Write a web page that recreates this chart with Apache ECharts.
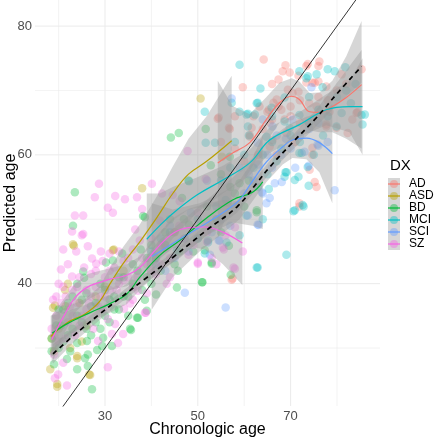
<!DOCTYPE html>
<html><head><meta charset="utf-8">
<script src="https://cdn.jsdelivr.net/npm/echarts@6/dist/echarts.min.js"></script>
<style>html,body{margin:0;padding:0;background:#fff}#c{width:435px;height:440px}</style>
</head><body><div id="c"></div>
<script>
// ---------- DATA ----------
const groups = ['AD','ASD','BD','MCI','SCI','SZ'];
const groupColors = ['#F8766D','#B79F00','#00BA38','#00BFC4','#619CFF','#F564E3'];
const xTitle = 'Chronologic age';
const yTitle = 'Predicted age';
const legendTitle = 'DX';
const xTickLabels = [30,50,70];
const yTickLabels = [40,60,80];
const xMajor = [30,50,70], xMinor = [20,40,60,80];
const yMajor = [40,60,80], yMinor = [30,50,70];

const adPts = [[64.2,74.8],[68.9,73.9],[68.3,73],[69.8,72.8],[73.4,73.8],[76.2,74.5],[76,73.8],[85.3,73.3],[67.4,71.7],[74.7,71.2],[76,71.4],[59.7,70.5],[63.3,67.5],[67,68.6],[69.4,70.1],[67.4,67.5],[65.3,67],[75.6,67.5],[78.4,66.7],[84.2,66.5],[77.7,64.4],[79.9,64.2],[56.7,64.2],[54.5,65.8],[61.2,62.8],[65.5,61.3],[69.1,63.4],[74.7,60],[74.1,57.7],[75.2,55.8],[75.6,55],[71.9,52.5],[71.9,52],[57.3,40.6],[73.7,74.1],[71.7,72.3],[73.4,71.25],[75.2,71.2],[77.7,70.6],[71.7,69.8],[70.4,69.6],[66.3,68.1],[61.6,64.2],[68.7,65.5],[84.4,66.6],[83.3,65.5],[82.3,63.4],[77.7,64.7],[74.7,61.1],[65.5,65],[65,66.7],[66.1,62.3],[61.2,63.1],[54.3,65.6],[56.9,64],[57.5,40.8],[62,66],[64,64],[66,65.5],[68,67],[70,67.5],[72,68.5],[74,68],[76,69],[78,68.5],[80,70],[82,71],[70,66],[72,65],[63,60],[67,60],[71,62],[58,61],[60,59],[66,71],[81,72.5],[55,62],[58,66]];
const asdPts = [[50.6,68.75],[38,54.8],[19.7,24],[26.8,25.8],[18.2,26.7],[24,28.4],[23.3,45.9],[31.9,45.3],[55.2,59.7],[18.5,31.5],[20,33],[21.5,36.5],[22,40],[24.5,37],[28,38],[25,31],[34,42],[19,29.5],[26,33.5],[30,39.5],[22.5,30],[45,48],[23.1,46.1],[21.4,39],[18.8,36.25],[31.7,45.2],[19.7,24.4],[26.6,25.9],[24,28.75],[19.2,36.6]];
const bdPts = [[44.2,62.7],[45.9,63.4],[51.7,64],[23.5,54.2],[59,55.6],[53,43.3],[51,40.2],[57.1,41.4],[62.7,51.1],[45.5,39.4],[50.9,40.2],[38.6,37.5],[41,38.3],[27.2,23.6],[24,26.7],[26.3,27.2],[21.8,28.3],[25.7,28.4],[26.3,29],[28.3,29.7],[29.4,30.3],[31.5,30.3],[29.6,31.6],[35.6,32.8],[37.1,34.7],[26.1,31.1],[24,30.8],[23.1,49],[25.3,41.9],[25.5,40.9],[33.7,44.7],[31.7,43.6],[30.2,43.3],[38.6,50.3],[37.7,45.3],[52.8,58.4],[56.9,59.7],[62.7,51.4],[38.2,50.5],[46.6,53.3],[48.1,49.2],[56.7,45.9],[53,43.1],[55,57],[48,56],[43,48],[41,44],[39,41],[36,40],[34,38],[32,36],[30,35],[28,34],[26,33],[24,35],[22,32],[20,30],[19,27.5],[18.5,29.5],[21,36],[23,38],[25,37.5],[27,36.5],[29,40],[31,37.5],[33,41],[35,35],[37,42],[40,46],[44,50],[46,45],[50,47],[54,50],[58,54],[61,56],[20.5,33.5],[22.5,29.5],[35.4,33],[51.5,45.2],[45.7,42],[36.9,34.7],[39,35.8],[18.5,31.5],[19.5,33.5],[20,36],[21,31],[22,37],[23,33],[24,40],[25,34],[26,38.5],[27,32],[28,37],[29,33],[30,39],[31,34],[32,38],[33,36],[34,41],[35,38],[36,43],[38,39],[39,44],[40,40],[42,42],[43,46],[45,43],[47,50],[49,45],[52,52],[55,48],[57,55],[60,52]];
const mciPts = [[51.5,66.7],[59,74],[71.9,73],[75.6,72.5],[78,73.3],[79.5,73],[81.8,73.6],[73.4,71.9],[76.9,70.5],[63.5,70.3],[57.3,68.1],[59,66.7],[60.8,66.4],[68.7,68.9],[65.9,67.3],[85.3,66.2],[85.5,64.7],[69.8,64.2],[53.7,61.9],[68.7,65.2],[71.9,66.2],[71.9,60.3],[73.7,58.1],[69.1,57.3],[68.7,56.6],[70.9,56.1],[72.6,52.2],[70.9,51.4],[70.6,51.25],[72.8,52],[59,47.5],[62.9,42.5],[69.1,44.5],[56.2,46.4],[64,50],[73.7,72.2],[62.7,68],[86,66.25],[79.9,64.4],[72.4,60.3],[62.3,66.25],[64.8,62.8],[68.9,57.3],[65.3,54.7],[71.7,56.6],[73.9,55.2],[60.5,50.6],[48.1,55.9],[52.2,46.7],[47.2,47],[45.5,45.2],[51.5,44.7],[62.7,42.5],[60.5,66.25],[62.9,68.1],[60.8,64.4],[55,56],[57,58],[60,60],[62,58],[64,60],[66,62],[67,59],[70,63],[72,62],[74,65],[76,67],[78,66],[80,69],[82,70],[84,71],[66,66],[58,62],[54,52],[50,50],[44,48],[42,47],[40,45],[56,53],[63,55],[75,60],[77,63],[83,68],[61,63],[65,57],[68,61],[74,69],[81,66.5],[51.7,61.9],[52.2,46.4]];
const sciPts = [[74.5,70.5],[57.3,68.75],[66.1,64.4],[64,65.5],[75.8,61.6],[68.1,55.8],[66.6,55.6],[79.5,54.5],[65.5,53.3],[64.8,52.5],[63.8,54.2],[52.6,44.5],[54.5,46.7],[62.9,49.2],[60.8,50.6],[47.2,38.6],[56,36.3],[54.7,46.7],[73.9,58.3],[64,54],[63.1,49.1],[76,61.4],[70.4,65.5],[62.9,61.9],[58,52],[60,54],[62,56],[66,58],[68,60],[70,61],[72,63],[74,64],[76,65],[78,62],[55,50],[50,47],[48,45],[45,44],[43,42],[41,43],[53,48],[57,49],[61,57],[65,60],[69,62.5],[71,58],[73,60.5],[67,63],[59,58],[63,58.5],[52,56],[48.5,51],[44,49]];
const szPts = [[28.7,55.5],[27.8,53.4],[32.2,53.6],[34.3,53.1],[36.9,53.4],[40.1,55.5],[25.3,50.6],[30.6,51.8],[31.7,51],[47.8,60.6],[42.3,54],[22.9,48.1],[25.3,47.7],[23.8,45],[21,45.3],[26.3,45.8],[27.2,43.9],[20.5,42.2],[22.9,41.1],[29.1,45],[28.1,43.1],[36.5,48.4],[36,45.3],[37.5,46.7],[38,51.6],[44.6,53.75],[46.1,52.8],[51.7,56.25],[41.8,49.8],[58,48.75],[55.4,45.6],[50,43.1],[58,42.3],[59.7,45],[57.7,42.5],[55.6,45.3],[43.3,40],[38.8,35.5],[21.8,24.2],[19.2,25.3],[19.9,25.9],[30.6,27],[21,27.7],[32.8,30.8],[28.5,31.1],[31.5,32.2],[33.9,32.2],[38.6,35.5],[35.4,36.9],[34.1,36.1],[37.1,38.9],[32.2,33.75],[30.6,34.5],[18.5,33],[19.5,35],[20,31],[20.5,37],[21.5,38],[22,34],[22.5,36.5],[23,39],[24,37],[24.5,41],[25,35],[26,39],[26.5,37],[27,41.5],[28,39.5],[29,38],[30,41],[31,39],[32,42.5],[33,40],[34,43.5],[35,41],[36,39.5],[39,43],[40,42],[42,46],[44,44],[45,48],[47,47],[49,46],[52,48],[53,44],[19,29],[18.8,37.5],[21,39.5],[23.5,32],[29.5,36],[27.5,33],[23.5,50.6],[25,47.5],[31,44.7],[50,43.3],[19,32],[19.5,38],[20,40],[21.5,31.5],[22,43],[23,35],[24,39.5],[24.5,33.5],[25.5,42.5],[26,36],[27,38],[28,42],[28.5,36.5],[29.5,43.5],[30,38],[31,42],[32.5,39],[33,45],[34,40.5],[35,44],[36,37.5],[37,41],[38,44],[39,38.5],[40,47],[41,41.5],[42,43],[43,45.5],[44,41],[46,49],[48,44.5],[50,51],[52,46.5],[54,43],[56,47.5]];

// smooth (loess) fits per group: [x, y]
const adFit  = [[54.3,58.75],[57.5,60.3],[61.2,61.9],[64.8,65.5],[67.6,68.1],[70.2,69.1],[71.9,68.6],[74.1,66.7],[76.2,66.6],[79,67.5],[82,68.9],[85.3,70.9]];
const asdFit = [[18.3,31.8],[22,34],[25.7,35.3],[28.9,37.3],[31.1,40],[33.9,43.1],[37.5,46.5],[41.2,50.3],[44.6,54],[48,57],[51.9,59],[57.3,62.2]];
const bdFit  = [[18.6,32.3],[21.8,33.75],[26.8,35.5],[31.1,36.9],[34.7,38.4],[37.5,41],[41.8,44.4],[46.1,46.7],[51.9,50.2],[57.5,53],[61.8,54.2],[64,55.8]];
const mciFit = [[39,46.9],[41.8,49],[44.6,50.9],[49.8,53.75],[55.4,56.1],[61.2,58.75],[65.5,62.3],[71.9,64.7],[77.7,67],[82.7,67.5],[85.5,67.5]];
const sciFit = [[40.1,44.2],[44.6,46.25],[50.4,48.75],[56.2,51.4],[59,53],[61.2,55.3],[64.8,58.9],[68.3,61.25],[70.4,62.3],[73.4,62.6],[76.2,61.9],[79,60.2]];
const szFit  = [[18.5,31.3],[21,34.8],[23.5,37.8],[26.3,39.5],[28.9,40.2],[31.1,40.7],[34.7,41.3],[37.5,42.5],[41.2,45.5],[44.6,47.8],[48,48.7],[51.5,48.8],[55.4,48],[59.6,46.3]];
const allFit = [[18.8,29.1],[23,31.8],[28.9,35.3],[33.5,37.9],[38.2,40.5],[45,44.3],[51.9,48.3],[58.4,51.9],[62.7,55.6],[65.5,58.1],[70,61.6],[75.6,65.8],[80,69.5],[85.3,73.75]];

// confidence bands: [x, lower, upper]
const adBand  = [[54.3,47,71.5],[57.5,53,67.6],[61.2,57.5,66.3],[64.8,62,69],[67.6,65,71.2],[70.2,66.3,71.9],[71.9,65.8,71.4],[74.1,63.8,69.6],[76.2,63.5,69.7],[79,63.5,71.5],[82,62.5,75.3],[85.3,61,80.8]];
const asdBand = [[18.3,28.5,35],[22,31.5,36.5],[25.7,33,37.6],[28.9,35,39.6],[31.1,37.5,42.5],[33.9,40.5,45.7],[37.5,43.8,49.2],[41.2,47,53.6],[44.6,49.8,58.2],[48,51.5,62.5],[51.9,52,66],[57.3,52,72.3]];
const bdBand  = [[18.6,29.5,35],[21.8,31.8,35.7],[26.8,34,37],[31.1,35.5,38.3],[34.7,36.8,40],[37.5,39,43],[41.8,42,46.8],[46.1,44,49.4],[51.9,47.5,53],[57.5,49.5,56.5],[61.8,49,59.5],[64,48.5,63]];
const mciBand = [[39,40,54],[41.8,44,54],[44.6,47,55],[49.8,51,56.5],[55.4,54,58.3],[61.2,56.8,60.8],[65.5,60.3,64.3],[71.9,62.8,66.6],[77.7,64.6,69.4],[82.7,63.5,71.5],[85.5,60,75]];
const sciBand = [[40.1,36,52.5],[44.6,41,51.5],[50.4,45,52.5],[56.2,48.3,54.5],[59,50,56],[61.2,52.2,58.4],[64.8,55.8,62],[68.3,58.5,64],[70.4,59.5,65],[73.4,59.3,65.9],[76.2,57.3,66.5],[79,52.5,67.9]];
const szBand  = [[18.5,27.5,35],[21,32,37.5],[23.5,35.5,40],[26.3,37.5,41.5],[28.9,38.5,42],[31.1,39,42.4],[34.7,39.6,43],[37.5,40.8,44.2],[41.2,43.5,47.5],[44.6,45.5,50.2],[48,45.8,51.6],[51.5,45.3,52.4],[55.4,43,53],[59.6,39.8,52.8]];
const allBand = [[18.8,27.6,30.6],[23,30.7,32.9],[28.9,34.4,36.2],[33.5,37.1,38.7],[38.2,39.7,41.3],[45,43.5,45.1],[51.9,47.4,49.2],[58.4,51,52.8],[62.7,54.7,56.5],[65.5,57.1,59.1],[70,60.5,62.7],[75.6,64.5,67.1],[80,67.8,71.2],[85.3,71.2,76.3]];

const identityLine = [[10,10],[95,95]];

// ---------- CHART ----------
const X_MIN = 14.91, X_MAX = 89.27, Y_MIN = 21.0, Y_MAX = 84.05;
const pts = [adPts, asdPts, bdPts, mciPts, sciPts, szPts];
const fits = [adFit, asdFit, bdFit, mciFit, sciFit, szFit];
const bands = [adBand, asdBand, bdBand, mciBand, sciBand, szBand];
const FONT = 'Liberation Sans, Arial, sans-serif';

function hexA(hex, a){const n=parseInt(hex.slice(1),16);return `rgba(${n>>16&255},${n>>8&255},${n&255},${a})`;}

function gridSeries(vals, dir, width){
  return {type:'custom', silent:true, z:0, data: vals.map(v=>[v]),
    renderItem:(p,api)=>{
      const v = api.value(0);
      const a = dir==='v' ? api.coord([v,Y_MIN]) : api.coord([X_MIN,v]);
      const b = dir==='v' ? api.coord([v,Y_MAX]) : api.coord([X_MAX,v]);
      return {type:'line', shape:{x1:a[0],y1:a[1],x2:b[0],y2:b[1]}, style:{stroke:'#ebebeb', lineWidth:width}};
    }};
}
function bandSeries(band, z){
  return {type:'custom', silent:true, z, clip:true, data:[[band[0][0], band[0][1]]],
    renderItem:(p,api)=>{
      const up = band.map(b=>api.coord([b[0],b[2]]));
      const lo = band.slice().reverse().map(b=>api.coord([b[0],b[1]]));
      return {type:'polygon', shape:{points: up.concat(lo)}, style:{fill:'rgba(153,153,153,0.4)'}};
    }};
}

const series = [];
series.push(gridSeries(xMajor,'v',1), gridSeries(xMinor,'v',0.6), gridSeries(yMajor,'h',1), gridSeries(yMinor,'h',0.6));
groups.forEach((g,i)=>{
  series.push({type:'scatter', name:g, z:1, silent:true, data:pts[i], symbolSize:8.5,
    itemStyle:{color:hexA(groupColors[i],0.4)}});
});
groups.forEach((g,i)=>series.push(bandSeries(bands[i],2)));
series.push(bandSeries(allBand,2));
groups.forEach((g,i)=>{
  series.push({type:'line', z:3, silent:true, data:fits[i], smooth:0.4, showSymbol:false,
    lineStyle:{color:groupColors[i], width:1.2}});
});
series.push({type:'line', z:4, silent:true, data:allFit, smooth:0.4, showSymbol:false,
  lineStyle:{color:'#000', width:1.7, type:[5,4]}});
series.push({type:'line', z:5, silent:true, data:identityLine, showSymbol:false, clip:true,
  lineStyle:{color:'#000', width:0.8}});

// titles + legend graphics
const graphic = [
  {type:'text', x:207.5, y:430, style:{text:xTitle, font:`16px ${FONT}`, fill:'#000', align:'center', verticalAlign:'middle'}},
  {type:'text', x:11, y:203, rotation:Math.PI/2, style:{text:yTitle, font:`16px ${FONT}`, fill:'#000', align:'center', verticalAlign:'middle'}},
  {type:'text', left:390, top:158, style:{text:legendTitle, font:`15px ${FONT}`, fill:'#000'}}
];
groups.forEach((g,i)=>{
  const y0 = 178 + i*12;
  graphic.push({type:'rect', shape:{x:388, y:y0, width:12, height:12}, style:{fill:'#d6d6d6'}});
  graphic.push({type:'circle', shape:{cx:394, cy:y0+6, r:4}, style:{fill:hexA(groupColors[i],0.4)}});
  graphic.push({type:'line', shape:{x1:388, y1:y0+6, x2:400, y2:y0+6}, style:{stroke:groupColors[i], lineWidth:1.2}});
  graphic.push({type:'text', x:409, y:y0+6, style:{text:g, font:`12px ${FONT}`, fill:'#000', verticalAlign:'middle'}});
});

const chart = echarts.init(document.getElementById('c'), null, {renderer:'canvas'});
chart.setOption({
  animation:false,
  backgroundColor:'#fff',
  grid:{left:35, right:55, top:0, bottom:34, containLabel:false, outerBoundsMode:'none'},
  xAxis:{type:'value', min:X_MIN, max:X_MAX,
    axisLine:{show:false}, axisTick:{show:false}, splitLine:{show:false},
    axisLabel:{customValues:xTickLabels, color:'#4d4d4d', fontSize:13, fontFamily:FONT, margin:4}},
  yAxis:{type:'value', min:Y_MIN, max:Y_MAX,
    axisLine:{show:false}, axisTick:{show:false}, splitLine:{show:false},
    axisLabel:{customValues:yTickLabels, color:'#4d4d4d', fontSize:13, fontFamily:FONT, margin:3}},
  series, graphic
});
</script></body></html>
